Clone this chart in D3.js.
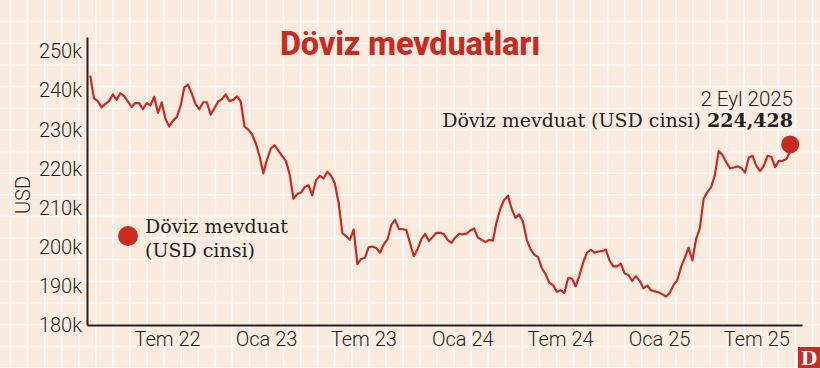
<!DOCTYPE html>
<html><head><meta charset="utf-8">
<script src="https://cdn.jsdelivr.net/npm/d3@7"></script>
<style>
html,body{margin:0;padding:0;background:#fbebdf;}
svg{display:block;}
</style></head>
<body>
<svg id="chart" width="820" height="368"></svg>
<script>
// ---- data ----
const startDate = new Date(2022, 1, 8);   // first weekly observation (Tue)
const endDate = new Date(2025, 8, 2);     // last observation, 2 Eyl 2025
// weekly FX deposits, USD (thousands shown as k)
const values = [
243.8,238.0,237.3,235.7,236.6,237.3,239.0,237.6,239.3,238.6,
237.2,235.8,236.8,236.8,235.2,236.8,236.2,238.4,234.3,237.0,
232.7,230.8,232.3,233.2,236.0,240.8,241.5,239.2,236.5,235.2,
237.0,237.0,233.8,235.5,237.2,237.8,239.0,237.3,237.6,238.5,
237.2,230.8,230.0,228.8,226.5,223.2,218.8,222.4,225.2,226.0,
224.6,223.2,222.0,218.5,212.3,213.5,213.9,215.3,215.8,213.2,
217.0,218.2,217.5,219.2,218.2,216.2,211.3,203.5,202.7,201.8,
204.4,195.6,196.9,197.2,199.9,200.1,199.7,198.5,200.6,201.9,
205.6,206.9,204.6,204.5,204.3,200.9,197.6,199.4,202.0,203.3,
201.5,202.5,203.6,203.6,203.2,201.7,201.0,202.4,203.3,203.2,
203.4,204.2,204.7,202.4,201.8,201.2,201.8,201.6,206.4,209.8,
212.0,213.1,209.7,207.4,208.3,206.4,201.8,199.4,198.0,197.4,
194.6,193.0,190.8,190.2,188.5,188.9,188.2,192.0,191.9,189.9,
192.7,196.0,198.5,199.2,198.5,198.8,198.9,199.3,196.5,195.0,
195.0,195.7,193.2,192.8,191.3,192.5,191.3,189.4,190.1,188.9,
188.6,188.4,187.9,187.3,188.2,190.2,191.5,194.8,197.2,199.8,
196.5,202.0,204.8,212.3,214.0,215.3,218.4,224.5,223.5,221.7,
220.1,220.3,220.6,220.2,219.0,222.8,223.3,220.8,219.4,220.8,
223.3,223.0,220.4,222.0,222.0,222.5,224.428
];
const yTicks = [180, 190, 200, 210, 220, 230, 240, 250];
const xTickDates = [new Date(2022,6,1), new Date(2023,0,1), new Date(2023,6,1), new Date(2024,0,1), new Date(2024,6,1), new Date(2025,0,1), new Date(2025,6,1)];
const xTickLabels = ["Tem 22", "Oca 23", "Tem 23", "Oca 24", "Tem 24", "Oca 25", "Tem 25"];
const title = "Döviz mevduatları";
const seriesName = "Döviz mevduat (USD cinsi)";
const lastLabel = "2 Eyl 2025";
const lastValueText = "224,428";

const dates = d3.timeTuesday.range(startDate, d3.timeDay.offset(endDate, 1));
const data = dates.map((d, i) => ({date: d, value: values[i]}));

// ---- layout ----
const W = 820, H = 368;
const svg = d3.select("#chart");
const RED = "#c92a22";
const INK = "#231f20";

// background grid
const bg = svg.append("g");
bg.append("rect").attr("width", W).attr("height", H).attr("fill", "#fbebdf");
const gx = 17.06, gy = 368 / 17;
for (let x = 10.6; x < W; x += gx) bg.append("line").attr("x1", x).attr("x2", x).attr("y1", 0).attr("y2", H)
  .attr("stroke", "#fffaf6").attr("stroke-width", 1.6);
for (let y = gy; y < H; y += gy) bg.append("line").attr("x1", 0).attr("x2", W).attr("y1", y).attr("y2", y)
  .attr("stroke", "#fffaf6").attr("stroke-width", 1.6);

const x = d3.scaleTime().domain([new Date(2022,1,2), new Date(2025,8,24)]).range([87, 802]);
const y = d3.scaleLinear().domain([180, 253.7]).range([325, 37]);

// title
svg.append("text").attr("x", 410).attr("y", 55).attr("text-anchor", "middle")
  .attr("font-family", "Roboto, 'Open Sans', sans-serif").attr("font-weight", 800)
  .attr("font-size", 32.5).attr("fill", RED).attr("letter-spacing", -0.2).text(title);

// line
svg.append("path").datum(data)
  .attr("fill", "none").attr("stroke", RED).attr("stroke-width", 2.2).attr("stroke-linejoin", "round")
  .attr("d", d3.line().x(d => x(d.date)).y(d => y(d.value)));

// axes
const yAxis = svg.append("g").attr("transform", "translate(87,0)")
  .call(d3.axisLeft(y).tickValues(yTicks).tickSize(0).tickSizeOuter(0).tickPadding(5).tickFormat(d => d + "k"));
const xAxis = svg.append("g").attr("transform", "translate(0,325)")
  .call(d3.axisBottom(x).tickValues(xTickDates).tickSize(0).tickSizeOuter(0).tickPadding(7)
    .tickFormat((d, i) => xTickLabels[i]));
[yAxis, xAxis].forEach(g => {
  g.select(".domain").attr("stroke", INK).attr("stroke-width", 2);
  g.selectAll("text").attr("font-family", "Roboto, sans-serif").attr("font-weight", 300)
    .attr("font-size", 20).attr("fill", INK);
});

// y label
svg.append("text").attr("transform", "translate(30,195) rotate(-90)").attr("text-anchor", "middle")
  .attr("font-family", "Roboto, sans-serif").attr("font-weight", 300).attr("font-size", 20)
  .attr("fill", INK).text("USD");

// legend
svg.append("circle").attr("cx", 128).attr("cy", 236).attr("r", 10).attr("fill", RED);
const leg = svg.append("text").attr("font-family", "'DejaVu Serif', serif").attr("font-size", 19).attr("fill", INK);
leg.append("tspan").attr("x", 145).attr("y", 233).text("Döviz mevduat");
leg.append("tspan").attr("x", 145).attr("y", 257).text("(USD cinsi)");

// end annotation
const last = data[data.length - 1];
svg.append("circle").attr("cx", x(last.date)).attr("cy", y(last.value) - 7).attr("r", 9).attr("fill", RED);
svg.append("text").attr("x", 793).attr("y", 106).attr("text-anchor", "end")
  .attr("font-family", "Roboto, sans-serif").attr("font-weight", 300).attr("font-size", 20.5)
  .attr("fill", INK).text(lastLabel);
const ann = svg.append("text").attr("x", 793).attr("y", 127).attr("text-anchor", "end")
  .attr("font-family", "'DejaVu Serif', serif").attr("font-size", 19).attr("fill", INK);
ann.append("tspan").text(seriesName + " ");
ann.append("tspan").attr("font-weight", 700).text(lastValueText);

// logo
svg.append("rect").attr("x", 798).attr("y", 347).attr("width", 22).attr("height", 21).attr("fill", RED);
svg.append("text").attr("x", 809).attr("y", 365).attr("text-anchor", "middle")
  .attr("font-family", "'DejaVu Serif', serif").attr("font-weight", 700).attr("font-size", 19)
  .attr("fill", "#fff").text("D");
</script>
</body></html>
